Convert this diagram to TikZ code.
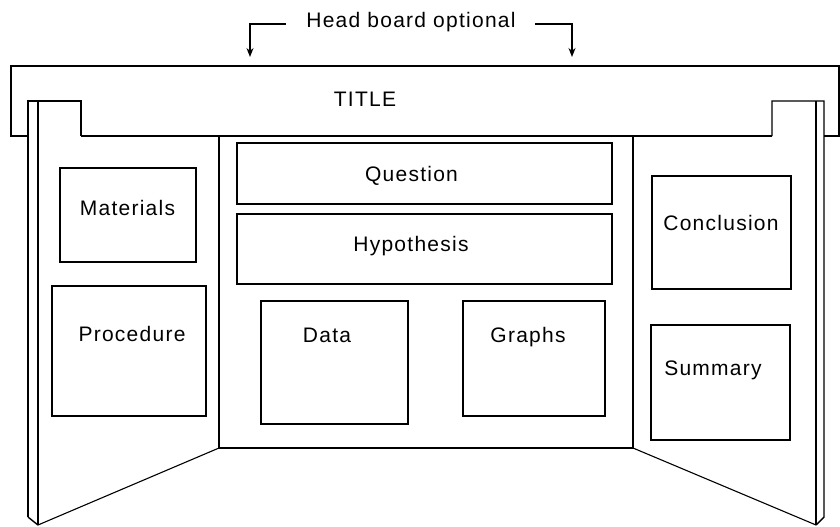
\documentclass[tikz,border=0pt]{standalone}
\usepackage{fontspec}
\setmainfont[LetterSpace=6]{Liberation Sans}
\usetikzlibrary{arrows.meta}
\begin{document}
\begin{tikzpicture}[x=1pt,y=-1pt,
  edge/.style={line width=1.4pt, line join=miter},
  thin edge/.style={line width=1.1pt},
  boxst/.style={draw, line width=1.4pt, rectangle, inner sep=0pt},
  lbl/.style={anchor=base, inner sep=0pt, font=\fontsize{21}{25}\selectfont},
  pointer/.style={line width=1.3pt, -{Stealth[length=9pt,width=7pt]}}]
\useasboundingbox (0,0) rectangle (840,527);

% head board
\draw[edge] (28,136) -- (11,136) -- (11,66) -- (839,66) -- (839,136) -- (824,136);
\draw[edge] (81,136) -- (772,136);

% left wing
\draw[edge] (28,517) -- (28,101) -- (81,101) -- (81,136);
\draw[edge] (38,101) -- (38,525);
\draw[edge] (28,517) -- (38,525);
\draw[thin edge] (38,525) -- (219,448);

% centre panel
\draw[edge] (219,136) -- (219,448) -- (633,448) -- (633,136);

% right wing
\draw[edge] (772,136) -- (772,101) -- (824,101) -- (824,517) -- (816,525);
\draw[edge] (816,101) -- (816,525);
\draw[thin edge] (816,525) -- (633,448);

% section boxes
\node[boxst, minimum width=136pt, minimum height=94pt]  (mat)  at (128,215)   {};
\node[boxst, minimum width=154pt, minimum height=130pt] (proc) at (129,351)   {};
\node[boxst, minimum width=375pt, minimum height=61pt]  (que)  at (424.5,173.5) {};
\node[boxst, minimum width=375pt, minimum height=70pt]  (hyp)  at (424.5,249) {};
\node[boxst, minimum width=147pt, minimum height=123pt] (dat)  at (334.5,362.5) {};
\node[boxst, minimum width=142pt, minimum height=115pt] (gra)  at (534,358.5) {};
\node[boxst, minimum width=139pt, minimum height=113pt] (con)  at (721.5,232.5) {};
\node[boxst, minimum width=139pt, minimum height=115pt] (sum)  at (720.5,382.5) {};

% labels
\node[lbl] (hb)    at (411,28)  {Head board optional};
\node[lbl] (title) at (365,106) {TITLE};
\node[lbl] (matT)  at (127.5,215) {Materials};
\node[lbl] (procT) at (132,341) {Procedure};
\node[lbl] (queT)  at (411.5,181) {Question};
\node[lbl] (hypT)  at (411,251) {Hypothesis};
\node[lbl] (datT)  at (327,342) {Data};
\node[lbl] (graT)  at (528,342) {Graphs};
\node[lbl] (conT)  at (721,230) {Conclusion};
\node[lbl] (sumT)  at (713,375) {Summary};

% pointers to the head board
\coordinate (hbL) at (286,24);
\coordinate (hbR) at (535,24);
\coordinate (tipL) at (250,57);
\coordinate (tipR) at (572,57);
\draw[pointer] (hbL) -| (tipL);
\draw[pointer] (hbR) -| (tipR);
\end{tikzpicture}
\end{document}
